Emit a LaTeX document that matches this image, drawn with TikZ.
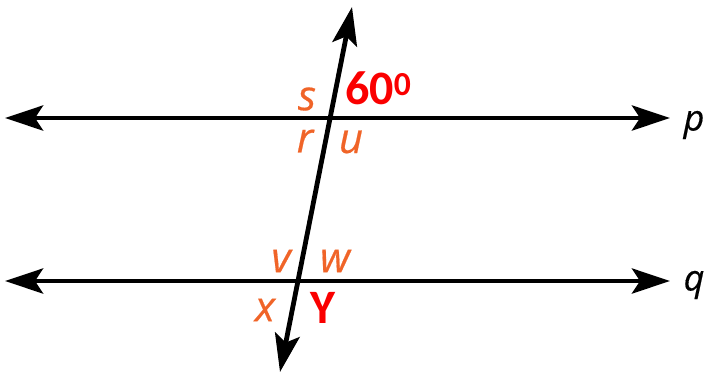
\documentclass[tikz,border=0pt]{standalone}
\usepackage{fontspec}
\setmainfont{Carlito}
\newfontfamily\letterfont[ItalicFeatures={FakeBold=0.4}]{Open Sans}
\usepackage{xcolor}
\usetikzlibrary{arrows.meta,positioning,calc}
\definecolor{anglelab}{RGB}{240,100,40}
\definecolor{givenlab}{RGB}{250,0,0}

\begin{document}
\begin{tikzpicture}[x=1pt, y=-1pt, >={Stealth[length=38pt,width=25pt,inset=8pt]},
  lineax/.style={line width=4.8pt, <->},
  angname/.style={text=anglelab, font=\letterfont\fontsize{42}{42}\selectfont\itshape, inner sep=0pt},
  angval/.style={text=givenlab, font=\fontsize{48}{48}\selectfont\bfseries, inner sep=0pt},
  linename/.style={font=\letterfont\fontsize{36}{36}\selectfont\itshape, inner sep=0pt}]
\useasboundingbox (0,0) rectangle (709,376);
% parallel lines and transversal
\coordinate (pL) at (5,118);
\coordinate (pR) at (670,118);
\coordinate (qL) at (5,281);
\coordinate (qR) at (670,281);
\coordinate (tT) at (352,7);
\coordinate (tB) at (280,372);
\draw[lineax] (pL) -- (pR);
\draw[lineax] (qL) -- (qR);
\draw[lineax] (tB) -- (tT);
\node[linename] (p) at (694,125) {p};
\node[linename] (q) at (694,285) {q};
% angle labels
\node[angname] (s) at (307,99) {s};
\node[angval, anchor=west] (a60) at (345,88) {60\textsuperscript{0}};
\node[angname] (r) at (305,141) {r};
\node[angname] (u) at (351,142) {u};
\node[angname] (v) at (281,261) {v};
\node[angname] (w) at (335,261) {w};
\node[angname] (x) at (265,310) {x};
\node[angval] (y) at (323,308) {Y};
\end{tikzpicture}
\end{document}
